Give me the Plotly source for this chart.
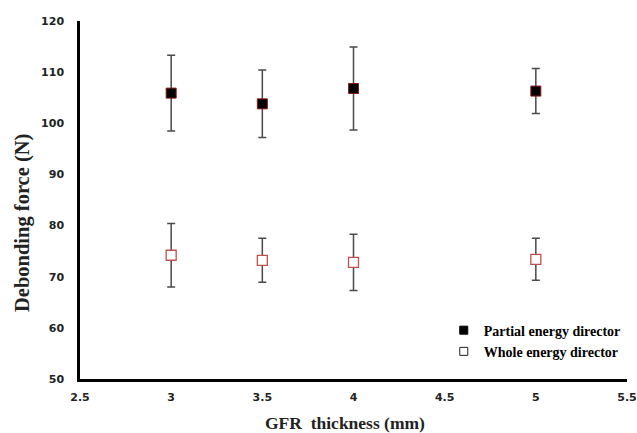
import plotly.graph_objects as go

thickness = [3, 3.5, 4, 5]
partial_mean = [105.9, 103.8, 106.8, 106.3]
partial_err = [7.4, 6.6, 8.1, 4.4]
whole_mean = [74.2, 73.2, 72.8, 73.4]
whole_err = [6.2, 4.3, 5.5, 4.1]

series_names = ["Partial energy director", "Whole energy director"]
x_ticks = [2.5, 3, 3.5, 4, 4.5, 5, 5.5]
x_ticktext = ["2.5", "3", "3.5", "4", "4.5", "5", "5.5"]
y_ticks = [50, 60, 70, 80, 90, 100, 110, 120]

err_style = dict(type="data", visible=True, color="#4a4a4a", thickness=1.5, width=4)

fig = go.Figure()
fig.add_trace(go.Scatter(
    x=thickness, y=partial_mean, mode="markers", name=series_names[0], showlegend=False,
    error_y=dict(array=partial_err, **err_style),
    marker=dict(symbol="square", size=10, color="black", line=dict(color="#8b1a1a", width=1)),
))
fig.add_trace(go.Scatter(
    x=thickness, y=whole_mean, mode="markers", name=series_names[1], showlegend=False,
    error_y=dict(array=whole_err, **err_style),
    marker=dict(symbol="square", size=10, color="white", line=dict(color="#c0504d", width=1.3)),
))
# legend entries (as in the reference, drawn with plain black/white squares)
fig.add_trace(go.Scatter(x=[None], y=[None], mode="markers", name=series_names[0],
                         marker=dict(symbol="square", size=8, color="black", line=dict(color="black", width=1))))
fig.add_trace(go.Scatter(x=[None], y=[None], mode="markers", name=series_names[1],
                         marker=dict(symbol="square", size=8, color="white", line=dict(color="#222", width=1))))

fig.update_layout(
    width=637, height=433,
    margin=dict(l=80, r=10, t=21, b=54),
    paper_bgcolor="white", plot_bgcolor="white",
    showlegend=True,
    legend=dict(x=0.665, y=0.18, xanchor="left", yanchor="top",
                font=dict(family="Liberation Serif", size=14, color="black", weight="bold"),
                bgcolor="rgba(0,0,0,0)", tracegroupgap=0, itemwidth=30),
    xaxis=dict(range=[2.5, 5.5], tickvals=x_ticks, ticktext=x_ticktext, automargin=False,
               showgrid=False, zeroline=False, showline=True, linecolor="black", linewidth=2.5,
               ticks="outside", ticklen=6, tickcolor="rgba(0,0,0,0)",
               tickfont=dict(family="DejaVu Sans", size=11, color="#222", weight="bold")),
    yaxis=dict(range=[50, 120], tickvals=y_ticks, automargin=False,
               showgrid=False, zeroline=False, showline=True, linecolor="black", linewidth=2.5,
               ticks="outside", ticklen=11, tickcolor="rgba(0,0,0,0)",
               tickfont=dict(family="DejaVu Sans", size=11, color="#222", weight="bold")),
    annotations=[
        dict(text="GFR  thickness (mm)", xref="paper", yref="paper", x=0.485, y=-0.123,
             xanchor="center", yanchor="middle", showarrow=False,
             font=dict(family="Liberation Serif", size=17.5, color="#222", weight="bold")),
        dict(text="Debonding force (N)", xref="paper", yref="paper", x=-0.104, y=0.436,
             xanchor="center", yanchor="middle", showarrow=False, textangle=-90,
             font=dict(family="Liberation Serif", size=20.5, color="#222", weight="bold")),
    ],
)
fig.write_html("out.html", config={"displayModeBar": False},
               post_script="document.body.style.margin='0';document.body.style.overflow='hidden';")
